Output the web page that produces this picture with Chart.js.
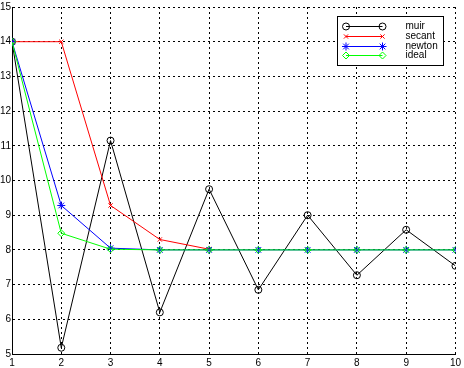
<!DOCTYPE html>
<html>
<head>
<meta charset="utf-8">
<script src="https://cdn.jsdelivr.net/npm/chart.js@4/dist/chart.umd.min.js"></script>
<style>
html,body{margin:0;padding:0;background:#fff;}
#wrap{width:464px;height:368px;position:relative;}
</style>
</head>
<body>
<div id="wrap"><canvas id="c" width="464" height="368"></canvas></div>
<script>
// Data
const xValues = [1, 2, 3, 4, 5, 6, 7, 8, 9, 10];
const muir   = [14, 5.18, 11.15, 6.2, 9.75, 6.85, 9.0, 7.27, 8.58, 7.54];
const secant = [14, 14, 9.28, 8.3, 8.02];
const newton = [14, 9.28, 8.05, 8.0, 8.0, 8.0, 8.0, 8.0, 8.0, 8.0];
const ideal  = [14, 8.48, 8.02, 8.0, 8.0, 8.0, 8.0, 8.0, 8.0, 8.0];
const seriesNames = ['muir', 'secant', 'newton', 'ideal'];
const xTicks = [1, 2, 3, 4, 5, 6, 7, 8, 9, 10];
const yTicks = [5, 6, 7, 8, 9, 10, 11, 12, 13, 14, 15];

const FONT = {family: "'Liberation Sans', Arial, Helvetica, sans-serif", size: 10};

function pts(arr){ return arr.map((v,i)=>({x:xValues[i], y:v})); }

const styles = [
  {color:'#000000', pointStyle:'circle', radius:3.5, order:3},
  {color:'#ff0000', pointStyle:'crossRot', radius:3, order:2},
  {color:'#0000ff', pointStyle:'star', radius:4, order:1},
  {color:'#00ff00', pointStyle:'rectRot', radius:3.5, order:0}
];
const seriesData = [muir, secant, newton, ideal];

const datasets = seriesData.map((arr, i) => ({
  label: seriesNames[i],
  data: pts(arr),
  borderColor: styles[i].color,
  backgroundColor: 'rgba(0,0,0,0)',
  pointBackgroundColor: 'rgba(0,0,0,0)',
  pointBorderColor: styles[i].color,
  pointStyle: styles[i].pointStyle,
  pointRadius: styles[i].radius,
  pointHoverRadius: styles[i].radius,
  pointBorderWidth: 1,
  borderWidth: 1,
  tension: 0,
  fill: false,
  order: styles[i].order
}));

function drawMarker(ctx, style, radius, color, x, y){
  ctx.save();
  ctx.strokeStyle = color;
  ctx.fillStyle = 'rgba(0,0,0,0)';
  ctx.lineWidth = 1;
  if (Chart.helpers && Chart.helpers.drawPoint) {
    Chart.helpers.drawPoint(ctx, {pointStyle: style, radius: radius, rotation: 0, borderWidth: 1}, x, y);
  } else {
    ctx.beginPath();
    ctx.arc(x, y, radius, 0, Math.PI*2);
    ctx.stroke();
  }
  ctx.restore();
}

const legendPlugin = {
  id: 'matlabLegend',
  afterDraw(chart){
    const ctx = chart.ctx;
    const a = chart.chartArea;
    const w = 106, h = 49;
    const bx = Math.round(a.right - 12 - w) + 0.5;
    const by = Math.round(a.top + 9) + 0.5;
    ctx.save();
    ctx.fillStyle = '#ffffff';
    ctx.fillRect(bx, by, w, h);
    ctx.strokeStyle = '#000000';
    ctx.lineWidth = 1;
    ctx.strokeRect(bx, by, w, h);
    ctx.font = FONT.size + 'px ' + FONT.family;
    ctx.textBaseline = 'middle';
    ctx.textAlign = 'left';
    chart.data.datasets.forEach((ds, i) => {
      const y = Math.round(by + 9.5 + i * 9.8) + 0.5;
      const x1 = bx + 8.5, x2 = bx + 45;
      ctx.strokeStyle = ds.borderColor;
      ctx.lineWidth = 1;
      ctx.beginPath();
      ctx.moveTo(x1, y);
      ctx.lineTo(x2, y);
      ctx.stroke();
      drawMarker(ctx, ds.pointStyle, ds.pointRadius, ds.borderColor, x1, y);
      drawMarker(ctx, ds.pointStyle, ds.pointRadius, ds.borderColor, x2, y);
      ctx.fillStyle = '#000000';
      ctx.fillText(ds.label, bx + 68, y);
    });
    ctx.restore();
  }
};

new Chart(document.getElementById('c'), {
  type: 'line',
  data: {datasets},
  options: {
    responsive: false,
    animation: false,
    events: [],
    layout: {padding: {top: 3, right: 4, left: 0, bottom: 0}},
    plugins: {legend: {display: false}, tooltip: {enabled: false}, title: {display: false}},
    scales: {
      x: {
        type: 'linear',
        min: 1, max: 10,
        afterBuildTicks(scale){ scale.ticks = xTicks.map(v => ({value: v})); },
        afterFit(scale){ scale.height = 14; },
        ticks: {color: '#000', font: FONT, padding: 3, maxRotation: 0, autoSkip: false},
        grid: {color: '#000', lineWidth: 1, drawTicks: false},
        border: {display: true, color: '#000', width: 1, dash: [2, 3]}
      },
      y: {
        type: 'linear',
        min: 5, max: 15,
        afterBuildTicks(scale){ scale.ticks = yTicks.map(v => ({value: v})); },
        afterFit(scale){ scale.width = 12; },
        ticks: {color: '#000', font: FONT, padding: 1, autoSkip: false},
        grid: {color: '#000', lineWidth: 1, drawTicks: false},
        border: {display: true, color: '#000', width: 1, dash: [2, 3]}
      }
    }
  },
  plugins: [legendPlugin]
});
</script>
</body>
</html>
